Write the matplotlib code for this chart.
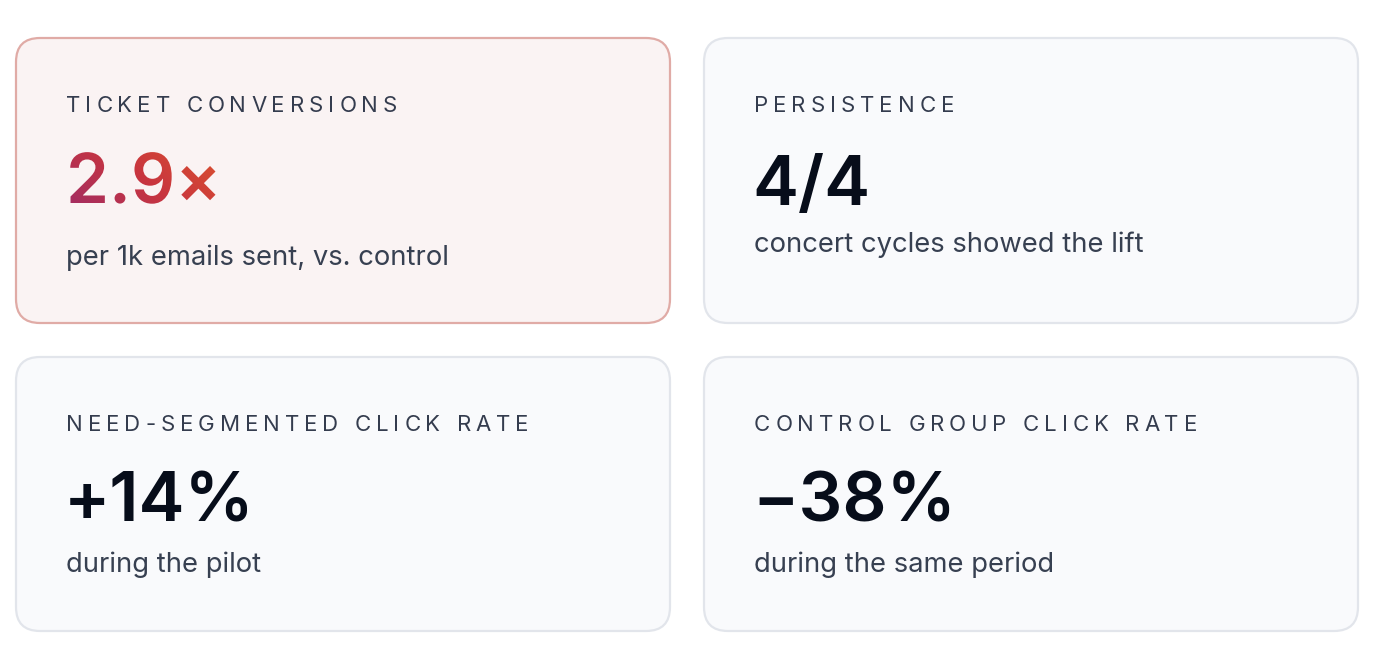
import numpy as np
import matplotlib
matplotlib.use("Agg")
import matplotlib.pyplot as plt
from matplotlib.patches import FancyBboxPatch, PathPatch
from matplotlib.textpath import TextPath
from matplotlib.font_manager import FontProperties, findfont, get_font
from matplotlib.colors import LinearSegmentedColormap

W, H = 1384, 660

labels = ["TICKET CONVERSIONS", "PERSISTENCE",
          "NEED-SEGMENTED CLICK RATE", "CONTROL GROUP CLICK RATE"]
values = ["2.9×", "4/4", "+14%", "\u221238%"]
notes = ["per 1k emails sent, vs. control", "concert cycles showed the lift",
         "during the pilot", "during the same period"]
highlight = [True, False, False, False]

# card boxes (x0, y0 top, x1, y1 bottom) in pixels from top-left
boxes = [(16, 38, 670, 323), (704, 38, 1358, 323),
         (16, 357, 670, 631), (704, 357, 1358, 631)]
# baselines: label, value, note
base = [(112, 203, 265), (112, 205, 252), (431, 522, 572), (431, 522, 572)]

LABEL_PX, VALUE_PX, NOTE_PX = 22.2, 69, 27.4
label_prop = FontProperties(family="Inter", weight="normal")
value_prop = FontProperties(family="Inter", weight="semibold")
note_prop = FontProperties(family="Inter", weight="normal")


def pt(px):
    return px * 72 / 100


def advance(ch, prop, px):
    font = get_font(findfont(prop))
    font.set_size(pt(px), 100)
    g = font.load_char(ord(ch))
    return g.linearHoriAdvance / 65536


fig = plt.figure(figsize=(W / 100, H / 100), dpi=100)
ax = fig.add_axes([0, 0, 1, 1])
ax.set_xlim(0, W)
ax.set_ylim(0, H)
ax.axis("off")

grad = LinearSegmentedColormap.from_list("g", ["#a52d60", "#c8353f", "#d9502f"])

for i in range(4):
    x0, y0, x1, y1 = boxes[i]
    if highlight[i]:
        fc, ec = "#faf3f3", "#e0aba6"
    else:
        fc, ec = "#f9fafc", "#e2e5eb"
    ax.add_patch(FancyBboxPatch((x0, H - y1), x1 - x0, y1 - y0,
                                boxstyle="round,pad=0,rounding_size=24",
                                fc=fc, ec=ec, lw=1.6))
    tx = x0 + 50
    bl, bv, bn = base[i]

    # letter-spaced label
    cx = tx
    for ch in labels[i]:
        ax.text(cx, H - bl, ch, fontproperties=label_prop, fontsize=pt(LABEL_PX),
                color="#343c4e", va="baseline", ha="left")
        cx += advance(ch, label_prop, LABEL_PX) + 0.225 * LABEL_PX

    if highlight[i]:
        tp = TextPath((tx, H - bv), values[i], size=VALUE_PX, prop=value_prop)
        patch = PathPatch(tp, fc="none", ec="none")
        ax.add_patch(patch)
        ext = tp.get_extents()
        xx, yy = np.meshgrid(np.linspace(0, 1, 200), np.linspace(0, 1, 100))
        img = ax.imshow(xx * 0.7 + (1 - yy) * 0.3, cmap=grad, origin="upper",
                        extent=(ext.x0, ext.x1, ext.y0, ext.y1), aspect="auto",
                        zorder=3, interpolation="bilinear")
        img.set_clip_path(patch)
    else:
        ax.text(tx - 2, H - bv, values[i], fontproperties=value_prop,
                fontsize=pt(VALUE_PX), color="#070d1a", va="baseline", ha="left")

    ax.text(tx, H - bn, notes[i], fontproperties=note_prop, fontsize=pt(NOTE_PX),
            color="#374051", va="baseline", ha="left")

fig.savefig("out.png", dpi=100, facecolor="white")
